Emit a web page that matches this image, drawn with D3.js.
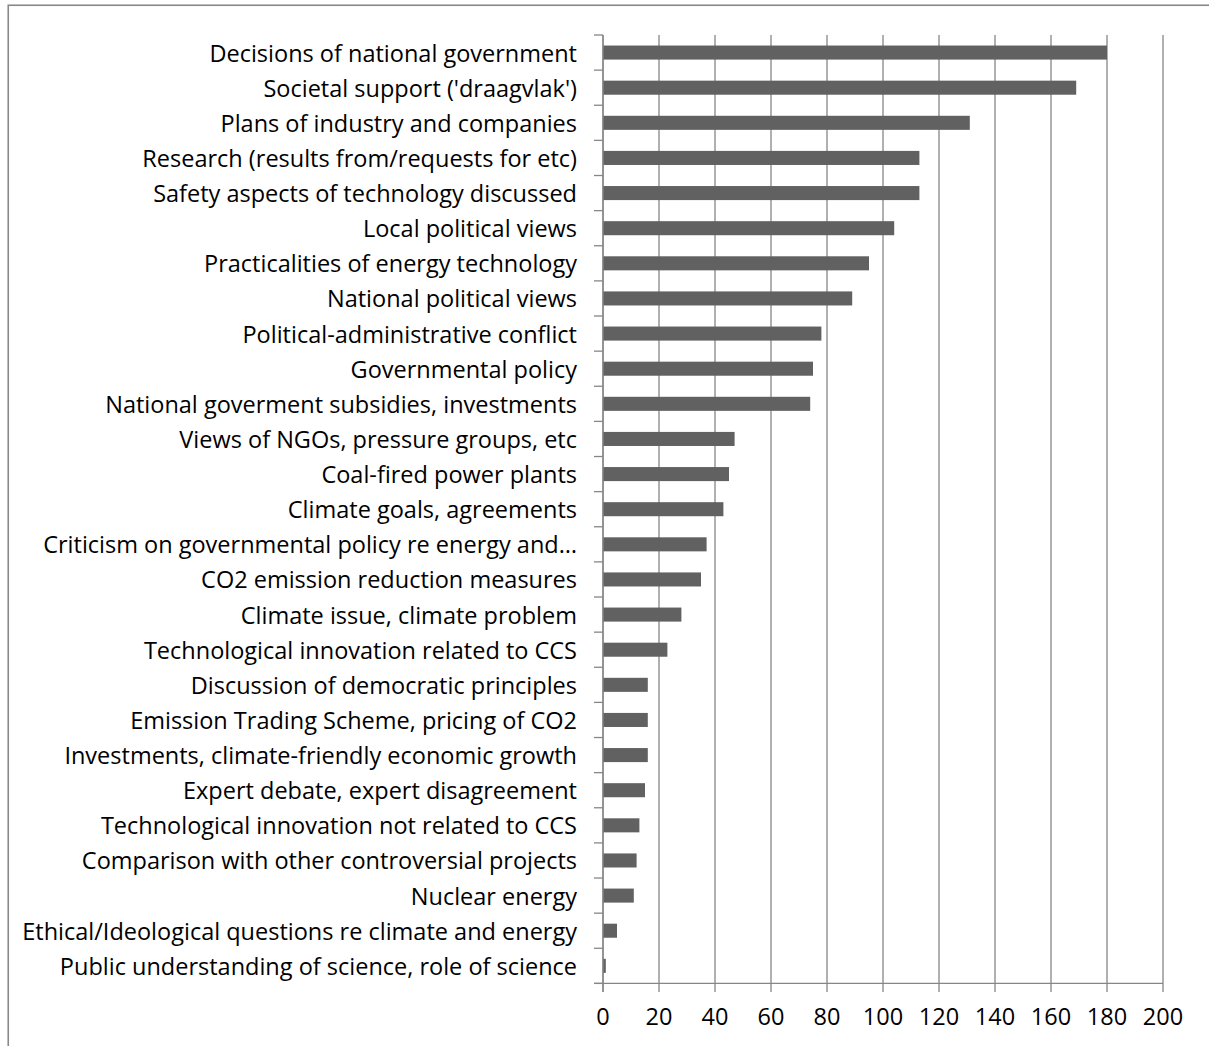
<!DOCTYPE html>
<html>
<head>
<meta charset="utf-8">
<script src="https://cdn.jsdelivr.net/npm/d3@7"></script>
<style>
  html, body { margin: 0; padding: 0; background: #fff; }
  svg { display: block; }
  text { font-family: "Open Sans", "Noto Sans", sans-serif; fill: #000; }
</style>
</head>
<body>
<svg id="chart" width="1209" height="1046"></svg>
<script>
const categories = [
  "Decisions of national government",
  "Societal support ('draagvlak')",
  "Plans of industry and companies",
  "Research (results from/requests for etc)",
  "Safety aspects of technology discussed",
  "Local political views",
  "Practicalities of energy technology",
  "National political views",
  "Political-administrative conflict",
  "Governmental policy",
  "National goverment subsidies, investments",
  "Views of NGOs, pressure groups, etc",
  "Coal-fired power plants",
  "Climate goals, agreements",
  "Criticism on governmental policy re energy and…",
  "CO2 emission reduction measures",
  "Climate issue, climate problem",
  "Technological innovation related to CCS",
  "Discussion of democratic principles",
  "Emission Trading Scheme, pricing of CO2",
  "Investments, climate-friendly economic growth",
  "Expert debate, expert disagreement",
  "Technological innovation not related to CCS",
  "Comparison with other controversial projects",
  "Nuclear energy",
  "Ethical/Ideological questions re climate and energy",
  "Public understanding of science, role of science"
];
const values = [180, 169, 131, 113, 113, 104, 95, 89, 78, 75, 74, 47, 45, 43, 37, 35, 28, 23, 16, 16, 16, 15, 13, 12, 11, 5, 1];
const xTicks = [0, 20, 40, 60, 80, 100, 120, 140, 160, 180, 200];

const svg = d3.select("#chart");
const W = 1209, H = 1046;
const plot = { left: 603, right: 1163, top: 35, bottom: 983.4 };
const gridColor = "#868686";
const barColor = "#616161";

// outer frame (cropped at right and bottom)
svg.append("rect")
  .attr("x", 8.25).attr("y", 5.25)
  .attr("width", 1400).attr("height", 1200)
  .attr("fill", "none").attr("stroke", "#898989").attr("stroke-width", 1.6);

const x = d3.scaleLinear().domain([0, 200]).range([plot.left, plot.right]);
const y = d3.scaleBand().domain(categories).range([plot.top, plot.bottom]).paddingInner(0.6).paddingOuter(0.3);

// label font sizing: fit widest label to reference width
const labelTargetWidth = 555;
const probe = svg.append("text").attr("font-size", 20).text(categories[25]);
const probeW = probe.node().getComputedTextLength();
probe.remove();
const fs = 20 * labelTargetWidth / probeW;

// vertical gridlines (extend below axis as tick marks)
svg.append("g").selectAll("line").data(xTicks).join("line")
  .attr("x1", d => x(d)).attr("x2", d => x(d))
  .attr("y1", plot.top).attr("y2", plot.bottom + 8.5)
  .attr("stroke", gridColor).attr("stroke-width", 1.3);

// bars
svg.append("g").selectAll("rect").data(values).join("rect")
  .attr("x", x(0))
  .attr("y", (d, i) => y(categories[i]))
  .attr("width", d => x(d) - x(0))
  .attr("height", y.bandwidth())
  .attr("fill", barColor);

// y axis line + category tick marks at boundaries
const step = y.step();
svg.append("line")
  .attr("x1", x(0)).attr("x2", x(0))
  .attr("y1", plot.top).attr("y2", plot.bottom + 8.5)
  .attr("stroke", gridColor).attr("stroke-width", 1.3);
const boundaries = d3.range(categories.length + 1);
svg.append("g").selectAll("line").data(boundaries).join("line")
  .attr("x1", x(0) - 9).attr("x2", x(0))
  .attr("y1", d => plot.top + d * step).attr("y2", d => plot.top + d * step)
  .attr("stroke", gridColor).attr("stroke-width", 1.3);

// x axis line
svg.append("line")
  .attr("x1", x(0) - 9).attr("x2", x(200))
  .attr("y1", plot.bottom).attr("y2", plot.bottom)
  .attr("stroke", gridColor).attr("stroke-width", 1.3);

// category labels
svg.append("g").selectAll("text").data(categories).join("text")
  .attr("x", 577)
  .attr("y", d => y(d) + y.bandwidth() / 2)
  .attr("text-anchor", "end")
  .attr("dominant-baseline", "central")
  .attr("font-size", fs)
  .text(d => d);

// x tick labels
svg.append("g").selectAll("text").data(xTicks).join("text")
  .attr("x", d => x(d))
  .attr("y", 1025)
  .attr("text-anchor", "middle")
  .attr("font-size", fs)
  .text(d => d);
</script>
</body>
</html>
